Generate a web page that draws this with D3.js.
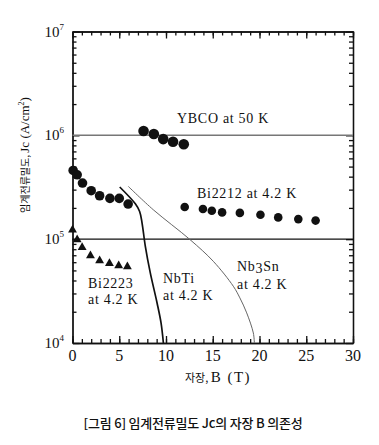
<!doctype html>
<html>
<head>
<meta charset="utf-8">
<style>
  body { margin: 0; background: #fff; }
  svg text { fill: #111; }
  .axis path, .axis line { stroke: #111; stroke-width: 1.3; }
</style>
<script src="https://d3js.org/d3.v7.min.js"></script>
</head>
<body>
<svg id="chart" width="379" height="445"></svg>
<script>
// data (B in tesla, Jc in A/cm2)
var ybcoB  = [7.6, 8.7, 9.7, 10.75, 11.9];
var ybcoJc = [1.10e6, 1.03e6, 9.2e5, 8.66e5, 8.2e5];

var bi2212B  = [0.07, 0.5, 1.07, 2.0, 2.9, 4.0, 5.0, 5.95, 12.0, 13.95, 14.9, 16.0, 17.9, 20.1, 22.0, 24.15, 26.0];
var bi2212Jc = [4.59e5, 4.17e5, 3.47e5, 2.93e5, 2.62e5, 2.47e5, 2.47e5, 2.18e5, 2.04e5, 1.95e5, 1.88e5, 1.81e5, 1.79e5, 1.72e5, 1.62e5, 1.56e5, 1.51e5];

var bi2223B  = [0, 0.5, 1.03, 1.92, 2.9, 3.95, 4.94, 5.87];
var bi2223Jc = [1.23e5, 9.9e4, 8.34e4, 6.94e4, 6.21e4, 5.85e4, 5.56e4, 5.44e4];

var nbtiB  = [5.05, 6.72, 7.18, 7.44, 7.79, 8.32, 9.04, 9.47, 9.72];
var nbtiJc = [3.18e5, 2.19e5, 1.85e5, 1.43e5, 8.53e4, 4.73e4, 2.44e4, 1.56e4, 1.0e4];

var nb3snB  = [5.97, 8.64, 12.57, 15.06, 17.2, 17.9, 18.63, 19.34, 19.45];
var nb3snJc = [3.22e5, 1.92e5, 9.9e4, 6.12e4, 3.52e4, 2.72e4, 1.95e4, 1.25e4, 1.0e4];

var refLines = [1e6, 1e5];
var xMajor = [0, 5, 10, 15, 20, 25, 30];
var yMajor = [1e4, 1e5, 1e6, 1e7];
var yExp = [4, 5, 6, 7];

(function() {
var SERIF = "'Liberation Serif', 'Times New Roman', 'DejaVu Serif', serif";
var KR = "'Noto Sans CJK KR', sans-serif";

var svg = d3.select("#chart");
var mLeft = 72.5, mRight = 353, mTop = 31.5, mBottom = 343;

var x = d3.scaleLinear().domain([0, 30]).range([mLeft, mRight]);
var y = d3.scaleLog().domain([1e4, 1e7]).range([mBottom, mTop]);

// minor y ticks 2..9 per decade
var yMinor = [];
[1e4, 1e5, 1e6].forEach(function(d) {
    for (var k = 2; k <= 9; k++) yMinor.push(d * k);
});
var xMinor = d3.range(0, 31);

function addAxis(axis, tx, ty) {
    svg.append("g").attr("class", "axis")
       .attr("transform", "translate(" + tx + "," + ty + ")")
       .call(axis)
       .selectAll("text").remove();
}

// bottom & top
addAxis(d3.axisBottom(x).tickValues(xMinor).tickSize(-4).tickSizeOuter(0), 0, mBottom);
addAxis(d3.axisBottom(x).tickValues(xMajor).tickSize(-7).tickSizeOuter(0), 0, mBottom);
addAxis(d3.axisTop(x).tickValues(xMinor).tickSize(-4).tickSizeOuter(0), 0, mTop);
addAxis(d3.axisTop(x).tickValues(xMajor).tickSize(-7).tickSizeOuter(0), 0, mTop);
// left & right
addAxis(d3.axisLeft(y).tickValues(yMinor).tickSize(-4).tickSizeOuter(0), mLeft, 0);
addAxis(d3.axisLeft(y).tickValues(yMajor).tickSize(-7).tickSizeOuter(0), mLeft, 0);
addAxis(d3.axisRight(y).tickValues(yMinor).tickSize(-4).tickSizeOuter(0), mRight, 0);
addAxis(d3.axisRight(y).tickValues(yMajor).tickSize(-7).tickSizeOuter(0), mRight, 0);

// x tick labels
svg.selectAll(".xlab").data(xMajor).enter().append("text")
   .attr("font-family", SERIF)
   .attr("x", function(d) { return x(d); })
   .attr("y", 361)
   .attr("text-anchor", "middle")
   .attr("font-size", "16px")
   .text(function(d) { return d; });

// y tick labels 10^n
yMajor.forEach(function(d, i) {
    var t = svg.append("text").attr("font-family", SERIF)
       .attr("x", 64).attr("y", y(d) + 5)
       .attr("text-anchor", "end").attr("font-size", "15px");
    t.append("tspan").text("10");
    t.append("tspan").attr("dy", -7).attr("font-size", "9px").text(yExp[i]);
});

// reference lines
svg.append("line")
   .attr("x1", x(0)).attr("x2", x(30))
   .attr("y1", y(refLines[0])).attr("y2", y(refLines[0]))
   .attr("stroke", "#777").attr("stroke-width", 1.5);
svg.append("line")
   .attr("x1", x(0)).attr("x2", x(30))
   .attr("y1", y(refLines[1])).attr("y2", y(refLines[1]))
   .attr("stroke", "#111").attr("stroke-width", 1.4);

// curves
var line = d3.line()
    .x(function(d) { return x(d[0]); })
    .y(function(d) { return y(d[1]); })
    .curve(d3.curveCatmullRom);

svg.append("path")
   .datum(d3.zip(nb3snB, nb3snJc))
   .attr("d", line)
   .attr("fill", "none").attr("stroke", "#666").attr("stroke-width", 1);

svg.append("path")
   .datum(d3.zip(nbtiB, nbtiJc))
   .attr("d", line)
   .attr("fill", "none").attr("stroke", "#111").attr("stroke-width", 1.7);

// markers
svg.selectAll(".ybco").data(d3.zip(ybcoB, ybcoJc)).enter().append("circle")
   .attr("cx", function(d) { return x(d[0]); })
   .attr("cy", function(d) { return y(d[1]); })
   .attr("r", 5.3).attr("fill", "#111");

svg.selectAll(".bi2212").data(d3.zip(bi2212B, bi2212Jc)).enter().append("circle")
   .attr("cx", function(d) { return x(d[0]); })
   .attr("cy", function(d) { return y(d[1]); })
   .attr("r", function(d) { return d[0] > 10 ? 4.3 : 4.8; })
   .attr("fill", "#111");

svg.selectAll(".bi2223").data(d3.zip(bi2223B, bi2223Jc)).enter().append("path")
   .attr("transform", function(d) { return "translate(" + x(d[0]) + "," + y(d[1]) + ")"; })
   .attr("d", d3.symbol().type(d3.symbolTriangle).size(34))
   .attr("fill", "#111");

// annotations
function label(txt, tx, ty) {
    svg.append("text").attr("font-family", SERIF)
       .attr("x", tx).attr("y", ty).attr("font-size", "14px")
       .attr("letter-spacing", "0.7px")
       .text(txt);
}
label("YBCO at 50 K", 177, 123);
label("Bi2212 at 4.2 K", 197, 198);
label("Bi2223", 88, 288);
label("at 4.2 K", 88, 304);
label("NbTi", 163, 283);
label("at 4.2 K", 163, 300);
var nb = svg.append("text").attr("font-family", SERIF)
   .attr("x", 237).attr("y", 271).attr("font-size", "14px")
   .attr("letter-spacing", "0.7px");
nb.append("tspan").text("Nb");
nb.append("tspan").attr("dy", 2).text("3");
nb.append("tspan").attr("dy", -2).text("Sn");
label("at 4.2 K", 237, 289);

// axis titles
var yt = svg.append("text")
   .attr("transform", "translate(29,155) rotate(-90)")
   .attr("text-anchor", "middle");
yt.append("tspan").attr("font-family", KR).attr("font-size", "10px").text("임계전류밀도, ");
yt.append("tspan").attr("font-family", SERIF).attr("font-size", "13px").text("Jc  (A/cm");
yt.append("tspan").attr("font-family", SERIF).attr("font-size", "8px").attr("dy", -5).text("2");
yt.append("tspan").attr("font-family", SERIF).attr("font-size", "13px").attr("dy", 5).text(")");

var xt = svg.append("text").attr("x", 218).attr("y", 382).attr("text-anchor", "middle");
xt.append("tspan").attr("font-family", KR).attr("font-size", "11px").text("자장, ");
xt.append("tspan").attr("font-family", SERIF).attr("font-size", "15px")
  .attr("letter-spacing", "1.5px").text("B  (T)");

svg.append("text").attr("font-family", KR)
   .attr("x", 193).attr("y", 428)
   .attr("text-anchor", "middle")
   .attr("font-size", "13px")
   .attr("font-weight", 500)
   .attr("letter-spacing", "-0.2px")
   .text("[그림 6] 임계전류밀도 Jc의 자장 B 의존성");
})();
</script>
</body>
</html>
